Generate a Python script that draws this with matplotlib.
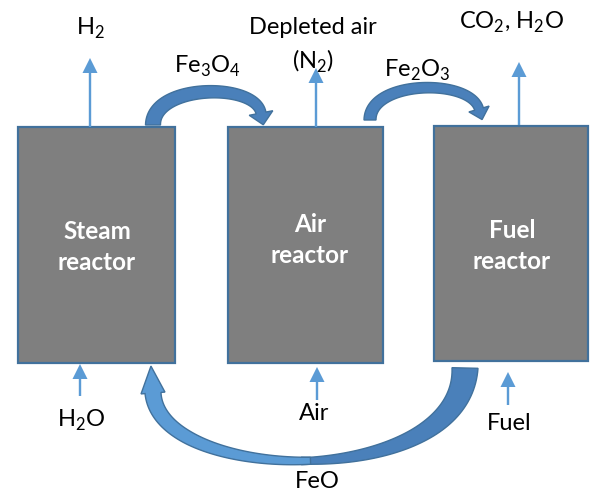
import matplotlib
matplotlib.use("Agg")
import matplotlib.pyplot as plt
import numpy as np
from matplotlib.patches import Rectangle, Polygon, FancyArrow

plt.rcParams['font.family'] = ['Lato', 'DejaVu Sans']

# reactors: names, labels and box extents (x0, x1, y_top, y_bottom) in pixels
reactors = ['steam', 'air', 'fuel']
reactor_labels = ['Steam\nreactor', 'Air\nreactor', 'Fuel\nreactor']
box_x = [(18, 175), (228, 383), (434, 588)]
box_y = [(127, 363), (127, 363), (126, 361)]
label_xy = [(97, 247), (310, 240), (512, 246)]

# gas streams in and out
out_labels = ['H$_\\mathregular{2}$', 'Depleted air\n(N$_\\mathregular{2}$)', 'CO$_\\mathregular{2}$, H$_\\mathregular{2}$O']
out_text_xy = [(90, 28), (313, 46), (512, 22)]
out_arrows = [(90, 127, 58), (316, 127, 68), (519, 125, 62)]   # x, y_start, y_tip
in_labels = ['H$_\\mathregular{2}$O', 'Air', 'Fuel']
in_text_xy = [(81, 420), (314, 413), (509, 424)]
in_arrows = [(80, 396, 364), (317, 400, 367), (508, 405, 372)]

# solid circulation between reactors
solid_labels = ['Fe$_\\mathregular{3}$O$_\\mathregular{4}$', 'Fe$_\\mathregular{2}$O$_\\mathregular{3}$', 'FeO']
solid_text_xy = [(207, 66), (417, 70), (317, 482)]

LIGHT = '#5B9BD5'
DARK = '#41719C'
MID = '#4A80BA'


def bez(P, t):
    t = t[:, None]
    return ((1 - t) ** 3 * P[0] + 3 * (1 - t) ** 2 * t * P[1]
            + 3 * (1 - t) * t ** 2 * P[2] + t ** 3 * P[3])


def dbez(P, t):
    t = t[:, None]
    return (3 * (1 - t) ** 2 * (P[1] - P[0]) + 6 * (1 - t) * t * (P[2] - P[1])
            + 3 * t ** 2 * (P[3] - P[2]))


def ribbon(ax, pts, wt, wv, t0, t1, head=None, fc=MID, ec=DARK):
    P = np.array(pts, float)
    t = np.linspace(t0, t1, 60)
    B = bez(P, t)
    d = dbez(P, t)
    d = d / np.linalg.norm(d, axis=1)[:, None]
    n = np.stack([-d[:, 1], d[:, 0]], axis=1)
    w = np.interp(t, wt, wv)[:, None]
    left = B + n * w / 2
    right = B - n * w / 2
    pts_out = [left]
    if head is not None:
        hl, hw = head
        end, de, ne = B[-1], d[-1], n[-1]
        pts_out.append(np.array([end + ne * hw / 2, end + de * hl, end - ne * hw / 2]))
    pts_out.append(right[::-1])
    ax.add_patch(Polygon(np.vstack(pts_out), closed=True, fc=fc, ec=ec, lw=1.0, zorder=3))


fig = plt.figure(figsize=(5.9, 4.99), dpi=100)
ax = fig.add_axes([0, 0, 1, 1])
ax.set_xlim(0, 590)
ax.set_ylim(499, 0)
ax.axis('off')

for (x0, x1), (y0, y1), lab, (lx, ly) in zip(box_x, box_y, reactor_labels, label_xy):
    ax.add_patch(Rectangle((x0, y0), x1 - x0, y1 - y0, fc='#7F7F7F', ec=DARK, lw=1.6, zorder=2))
    ax.text(lx, ly, lab, color='white', fontsize=17.5, fontweight='bold',
            ha='center', va='center', linespacing=1.4, zorder=4)

for (x, ys, yt), lab, (tx, ty) in zip(out_arrows, out_labels, out_text_xy):
    ax.add_patch(FancyArrow(x, ys, 0, yt - ys, width=2.4, head_width=15, head_length=15,
                            length_includes_head=True, color=LIGHT, lw=0, zorder=3))
    ax.text(tx, ty, lab, fontsize=17, ha='center', va='center', linespacing=1.5)

for (x, ys, yt), lab, (tx, ty) in zip(in_arrows, in_labels, in_text_xy):
    ax.add_patch(FancyArrow(x, ys, 0, yt - ys, width=2.4, head_width=15, head_length=15,
                            length_includes_head=True, color=LIGHT, lw=0, zorder=3))
    ax.text(tx, ty, lab, fontsize=17, ha='center', va='center')

# Fe3O4: steam -> air
ribbon(ax, [(153, 125), (153, 84), (255, 82), (261, 113)], [0, 1], [15, 10], 0, 1, head=(12, 24))
# Fe2O3: air -> fuel
ribbon(ax, [(370, 120), (370, 80), (470, 78), (479, 109)], [0, 1], [12, 9], 0, 1, head=(11, 21))
# FeO: fuel -> steam, two-tone twisted band
feo = [(465, 368), (462, 490), (160, 485), (153, 393)]
feo_wt = [0, 0.25, 0.5, 0.8, 1]
feo_wv = [26, 16, 7, 13, 16]
ribbon(ax, feo, feo_wt, feo_wv, 0, 0.52, fc=MID)
ribbon(ax, feo, feo_wt, feo_wv, 0.5, 1, head=(27, 24), fc=LIGHT)

for lab, (tx, ty) in zip(solid_labels, solid_text_xy):
    ax.text(tx, ty, lab, fontsize=17, ha='center', va='center')

fig.savefig('out.png', dpi=100)
